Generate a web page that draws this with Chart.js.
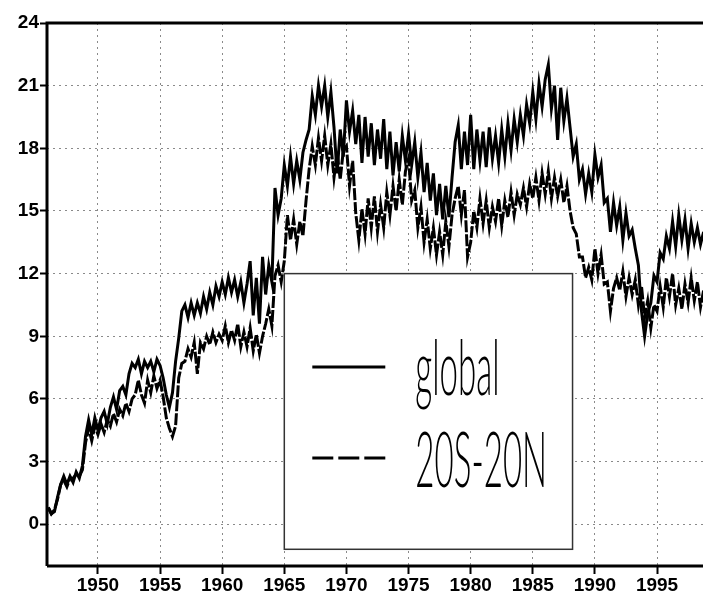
<!DOCTYPE html>
<html>
<head>
<meta charset="utf-8">
<script src="https://cdn.jsdelivr.net/npm/chart.js@4.4.1/dist/chart.umd.min.js"></script>
<style>
    html, body { margin: 0; padding: 0; background: #fff; }
    #wrap { width: 703px; height: 594px; position: relative; }
</style>
</head>
<body>
<div id="wrap"><canvas id="sampleChart"></canvas></div>
<script>
// quarterly values, first point at 1946.0
const startYear = 1946;
const stepYears = 0.25;

const globalValues = [
    0.8, 0.5, 0.6, 1.3,   1.9, 2.3, 1.9, 2.3,   2.0, 2.5, 2.2, 2.8,   4.2, 5.0, 4.3, 5.1,
    4.5, 5.1, 5.4, 4.8,   5.6, 6.1, 5.5, 6.4,   6.6, 6.2, 7.2, 7.7,   7.5, 7.9, 7.2, 7.8,
    7.5, 7.8, 7.3, 7.9,   7.6, 7.0, 6.2, 5.6,   6.3, 7.8, 8.9, 10.2,  10.5, 9.9, 10.6, 10.0,
    10.6, 10.1, 10.9, 10.3,   11.1, 10.5, 11.4, 10.9,   11.6, 11.0, 11.8, 11.1,   11.7, 10.9, 11.6, 10.6,
    11.5, 12.6, 10.0, 11.8,   9.6, 12.8, 11.0, 12.4,   11.6, 16.1, 14.8, 15.6,   17.2, 16.2, 17.6, 16.3,
    17.4, 16.5, 17.8, 18.4,   18.9, 20.5, 19.6, 21.0,   20.0, 21.0, 19.5, 20.7,   19.0, 16.8, 18.9, 17.6,
    20.3, 18.8, 19.8, 18.2,   19.6, 17.3, 19.5, 17.6,   19.2, 17.2, 18.9, 17.5,   19.4, 17.0, 18.8, 16.7,
    18.3, 16.9, 18.6, 17.4,   18.7, 17.2, 18.3, 16.6,   17.8, 15.9, 17.3, 15.5,   16.8, 14.8, 16.3, 14.6,
    16.2, 14.7, 16.6, 18.3,   19.1, 17.0, 18.8, 17.2,   19.6, 17.0, 18.9, 17.4,   18.8, 17.1, 19.0, 17.5,
    18.6, 17.3, 18.9, 17.6,   19.2, 17.9, 19.4, 18.3,   19.6, 18.6, 20.1, 19.2,   20.7, 19.4, 21.1, 20.0,
    21.3, 22.0, 19.9, 21.0,   18.4, 20.9, 19.3, 20.4,   19.0, 17.6, 18.2, 16.5,   17.0, 15.8, 16.8, 15.9,
    17.7, 16.6, 17.2, 15.4,   15.6, 14.0, 15.4, 14.3,   15.2, 13.6, 14.9, 13.8,   14.1, 13.2, 12.4, 10.2,
    9.0, 10.1, 10.6, 11.9,   11.6, 13.0, 12.7, 13.8,   13.2, 14.5, 13.3, 14.8,   13.6, 14.6, 13.2, 14.4,
    13.5, 14.2, 13.4, 14.0
];

const tropicsValues = [
    0.8, 0.5, 0.7, 1.2,   1.9, 2.1, 1.8, 2.2,   2.2, 2.4, 2.3, 2.6,   3.9, 4.6, 4.0, 4.7,
    4.3, 4.8, 4.4, 5.0,   4.7, 5.3, 4.9, 5.5,   5.2, 5.8, 5.4, 6.0,   6.2, 6.9, 6.2, 5.8,
    6.9, 6.3, 7.1, 6.5,   6.9, 6.1, 5.1, 4.6,   4.2, 4.7, 7.0, 7.7,   7.8, 8.4, 8.0, 8.7,
    7.2, 8.7, 8.4, 9.0,   8.6, 9.2, 8.7, 9.1,   8.8, 9.5, 8.7, 9.3,   8.8, 9.6, 8.5, 9.2,
    8.5, 9.4, 8.3, 9.1,   8.2, 9.0, 9.6, 10.3,   9.5, 11.9, 12.4, 11.6,   12.6, 14.8, 13.6, 14.6,
    13.4, 14.5, 13.8, 15.5,   17.0, 18.1, 17.2, 18.5,   17.4, 18.6, 17.2, 18.2,   16.6, 17.8, 16.5, 17.9,
    18.1, 16.2, 17.4, 14.9,   13.6, 15.1, 13.9, 15.6,   14.2, 15.7, 14.0, 15.3,   14.2, 15.9, 14.8, 16.2,
    15.0, 16.5, 15.3, 16.9,   17.5, 15.5, 16.0, 14.2,   15.2, 13.5, 14.6, 13.2,   14.2, 12.9, 14.0, 12.9,
    14.5, 13.3, 14.8, 15.6,   16.2, 14.8, 16.0, 12.8,   13.5, 15.0, 14.2, 15.6,   14.4, 15.5, 14.2, 15.2,
    14.5, 15.6, 14.3, 15.5,   14.7, 15.9, 14.8, 15.8,   15.3, 16.1, 15.2, 16.3,   15.6, 16.6, 15.5, 16.8,
    15.8, 16.9, 15.6, 16.6,   15.7, 16.5, 15.4, 16.2,   15.0, 14.2, 13.9, 12.8,   12.8, 11.8, 12.3, 11.7,
    13.2, 12.0, 12.9, 11.5,   11.6, 10.2, 11.3, 11.8,   11.2, 12.1, 10.9, 11.8,   11.0, 11.7, 10.5, 11.4,
    9.9, 10.7, 9.4, 10.5,   10.2, 11.4, 10.4, 11.8,   10.9, 12.0, 10.5, 11.3,   10.3, 11.5, 10.6, 11.8,
    10.7, 11.6, 10.4, 11.2
];

const seriesLabels = ["global", "20S-20N"];
const xTickValues = [1950, 1955, 1960, 1965, 1970, 1975, 1980, 1985, 1990, 1995];
const yTickValues = [0, 3, 6, 9, 12, 15, 18, 21, 24];

function toPoints(values) {
    return values.map((v, i) => ({ x: startYear + i * stepYears, y: v }));
}

// Legende als Kasten im Plot, grosse schmale Schrift
const boxLegend = {
    id: 'boxLegend',
    afterDatasetsDraw(chart) {
        const ctx = chart.ctx;
        const xs = chart.scales.x;
        const ys = chart.scales.y;
        const left = xs.getPixelForValue(1965);
        const right = xs.getPixelForValue(1988.2);
        const top = ys.getPixelForValue(12);
        const bottom = ys.getPixelForValue(-1.2);

        ctx.save();
        ctx.fillStyle = '#fff';
        ctx.fillRect(left, top, right - left, bottom - top);
        ctx.strokeStyle = '#333';
        ctx.lineWidth = 1.5;
        ctx.strokeRect(left, top, right - left, bottom - top);

        const rows = [367, 458];
        chart.data.datasets.forEach((ds, i) => {
            const y = rows[i];
            ctx.strokeStyle = '#000';
            ctx.lineWidth = 3;
            ctx.setLineDash(i === 0 ? [] : [21, 5]);
            ctx.beginPath();
            ctx.moveTo(left + 28, y);
            ctx.lineTo(left + 101, y);
            ctx.stroke();
            ctx.setLineDash([]);

            ctx.save();
            ctx.translate(left + 131, i === 0 ? 395 : 487);
            ctx.scale(0.43, 1);
            ctx.fillStyle = '#000';
            ctx.font = '300 77px Lato';
            ctx.textBaseline = 'alphabetic';
            ctx.fillText(ds.label, 0, 0);
            ctx.restore();
        });
        ctx.restore();
    },
    afterDraw(chart) {
        // Achsenlinien und oberer Rahmen
        const ctx = chart.ctx;
        const a = chart.chartArea;
        ctx.save();
        ctx.strokeStyle = '#000';
        ctx.lineWidth = 3;
        ctx.beginPath();
        ctx.moveTo(a.left, a.bottom);
        ctx.lineTo(a.left, a.top);
        ctx.lineTo(a.right, a.top);
        ctx.moveTo(a.left, a.bottom);
        ctx.lineTo(a.right, a.bottom);
        ctx.stroke();
        ctx.restore();
    }
};

const tickFont = { family: 'Liberation Sans', weight: 'bold', size: 19 };

const config = {
    type: 'line',
    data: {
        datasets: [
            {
                label: seriesLabels[0],
                data: toPoints(globalValues),
                borderColor: '#000',
                borderWidth: 3,
                pointRadius: 0,
                tension: 0
            },
            {
                label: seriesLabels[1],
                data: toPoints(tropicsValues),
                borderColor: '#000',
                borderWidth: 3,
                borderDash: [12, 2],
                pointRadius: 0,
                tension: 0
            }
        ]
    },
    options: {
        responsive: false,
        animation: false,
        events: [],
        layout: { padding: { top: 23, right: 0, left: 0, bottom: 0 } },
        plugins: {
            legend: { display: false },
            tooltip: { enabled: false },
            title: { display: false }
        },
        scales: {
            x: {
                type: 'linear',
                min: 1945.9,
                max: 1998.7,
                afterBuildTicks: s => { s.ticks = xTickValues.map(v => ({ value: v })); },
                afterFit: s => { s.height = 28; },
                ticks: {
                    color: '#000',
                    font: tickFont,
                    padding: 0,
                    maxRotation: 0,
                    autoSkip: false,
                    callback: v => String(v)
                },
                grid: {
                    color: '#8a8a8a',
                    lineWidth: 1,
                    tickColor: '#000',
                    tickWidth: 2,
                    tickLength: 8
                },
                border: { display: false, dash: [2, 4] }
            },
            y: {
                type: 'linear',
                min: -2,
                max: 24,
                afterBuildTicks: s => { s.ticks = yTickValues.map(v => ({ value: v })); },
                afterFit: s => { s.width = 47; },
                ticks: {
                    color: '#000',
                    font: tickFont,
                    padding: 1,
                    autoSkip: false,
                    callback: v => String(v)
                },
                grid: {
                    color: '#8a8a8a',
                    lineWidth: 1,
                    tickColor: '#000',
                    tickWidth: 2,
                    tickLength: 7
                },
                border: { display: false, dash: [2, 4] }
            }
        }
    },
    plugins: [boxLegend]
};

const canvas = document.querySelector("#sampleChart");
canvas.width = 703;
canvas.height = 594;
canvas.style.width = '703px';
canvas.style.height = '594px';
new Chart(canvas, config);
</script>
</body>
</html>
